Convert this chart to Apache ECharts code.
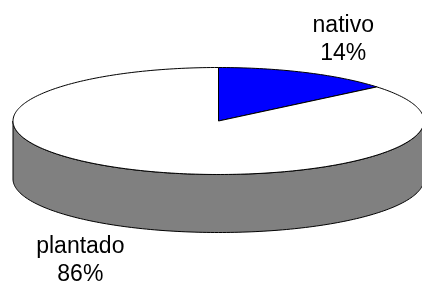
<!DOCTYPE html>
<html>
<head>
<meta charset="utf-8">
<script src="https://cdn.jsdelivr.net/npm/echarts@6/dist/echarts.min.js"></script>
<style>
  html, body { margin: 0; padding: 0; background: #fff; }
  #chart { width: 422px; height: 286px; }
</style>
</head>
<body>
<div id="chart"></div>
<script>
var categories = ['nativo', 'plantado'];
var values = [14, 86];
var colors = ['#0000ff', '#ffffff'];

// ellipse layout of the 3d pie
var cx = 218.5, cy = 121, rx = 205.5, ry = 53.5, depth = 58;
var labelFont = '23px "Liberation Sans", Arial, sans-serif';
var total = values.reduce(function (a, b) { return a + b; }, 0);

var measureCtx = document.createElement('canvas').getContext('2d');
measureCtx.font = labelFont;

function pt(t, dy) {
  return [cx + rx * Math.sin(t), cy - ry * Math.cos(t) + (dy || 0)];
}

function arc(a, b, dy) {
  var pts = [];
  var n = Math.max(2, Math.ceil(Math.abs(b - a) / 0.02));
  for (var i = 0; i <= n; i++) {
    pts.push(pt(a + (b - a) * i / n, dy));
  }
  return pts;
}

function renderItem(params, api) {
  var idx = params.dataIndex;
  var before = 0;
  for (var i = 0; i < idx; i++) before += values[i];
  var t0 = before / total * Math.PI * 2;
  var t1 = (before + values[idx]) / total * Math.PI * 2;
  var children = [];

  // front wall, only the part between 3 and 9 o'clock is visible
  var s0 = Math.max(t0, Math.PI / 2), s1 = Math.min(t1, Math.PI * 1.5);
  if (s1 > s0) {
    var wall = arc(s0, s1, 0).concat(arc(s1, s0, depth));
    children.push({
      type: 'polygon',
      z2: 1,
      shape: { points: wall },
      style: { fill: '#808080', stroke: '#000', lineWidth: 1 }
    });
  }

  var top = [[cx, cy]].concat(arc(t0, t1, 0));
  children.push({
    type: 'polygon',
    z2: 2,
    shape: { points: top },
    style: { fill: colors[idx], stroke: '#000', lineWidth: 1, lineJoin: 'round' }
  });

  // label box: its near edge sits just outside the ellipse
  var lines = [categories[idx], Math.round(values[idx] / total * 100) + '%'];
  var w = Math.max.apply(null, lines.map(function (s) { return measureCtx.measureText(s).width; }));
  var mid = (t0 + t1) / 2;
  var edge = cx + rx * 1.075 * Math.sin(mid);
  var lx = Math.sin(mid) >= 0 ? edge + w / 2 : edge - w / 2;
  var ly = cy - ry * 1.68 * Math.cos(mid);
  if (Math.cos(mid) < 0) ly += depth;
  children.push({
    type: 'text',
    z2: 3,
    style: {
      x: lx, y: ly,
      text: lines.join('\n'),
      fill: '#000',
      font: labelFont,
      lineHeight: 28,
      align: 'center',
      verticalAlign: 'middle'
    }
  });

  return { type: 'group', children: children };
}

var chart = echarts.init(document.getElementById('chart'));
chart.setOption({
  animation: false,
  series: [{
    type: 'custom',
    coordinateSystem: 'none',
    renderItem: renderItem,
    data: values.map(function (v, i) { return { name: categories[i], value: v }; })
  }]
});
</script>
</body>
</html>
